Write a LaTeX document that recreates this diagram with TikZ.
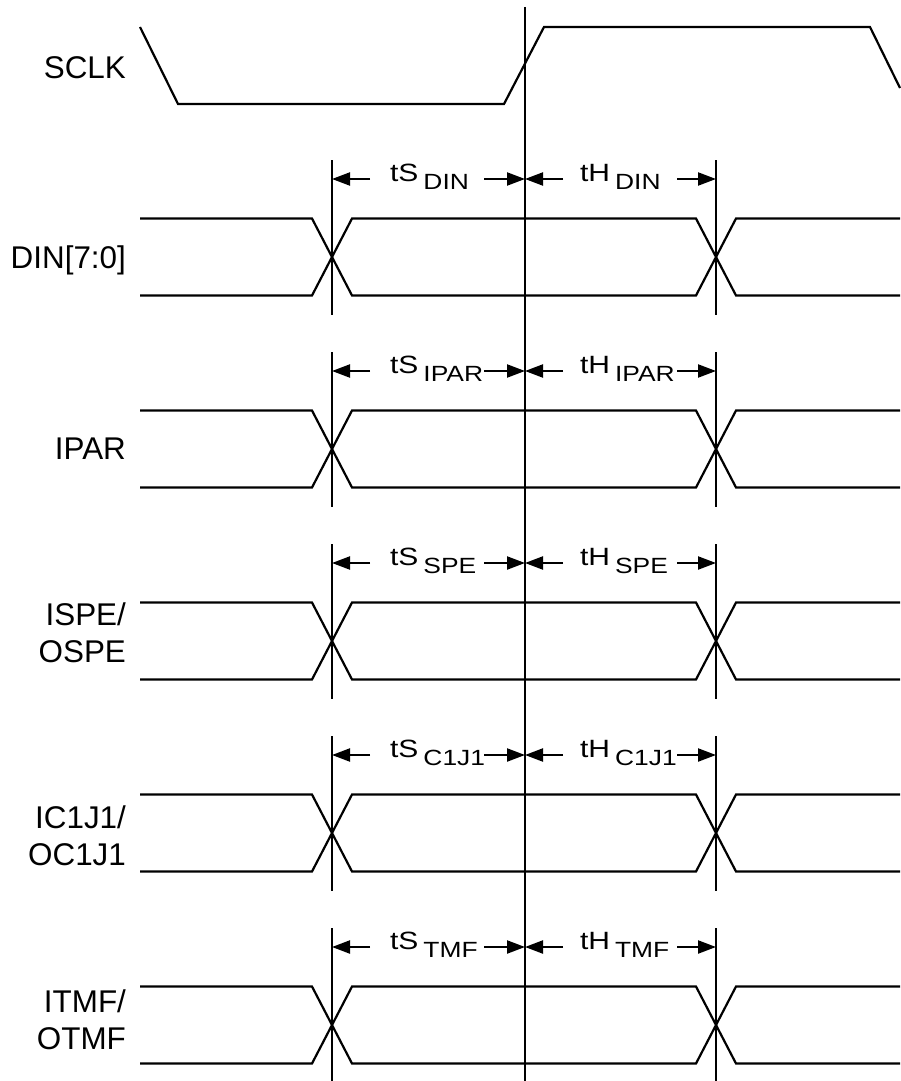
\documentclass[tikz,border=0pt]{standalone}
\usepackage{fontspec, graphicx}
\setmainfont{Liberation Sans}
\usetikzlibrary{arrows.meta}

\begin{document}
\begin{tikzpicture}[x=0.5pt, y=-0.5pt, line width=1.1pt,
    siglabel/.style={font=\fontsize{15.7}{18.5}\selectfont, align=right, anchor=east, inner sep=0pt},
    dimarrow/.style={-{Triangle[length=9pt,width=6.5pt]}},
    timelabel/.style={anchor=base west, inner sep=0pt, font=\fontsize{12.5}{14}\selectfont}]
      \useasboundingbox (0,0) rectangle (900,1081);
      % clock and its rising edge
      \node[siglabel] (sclk) at (127,67.5) {SCLK};
      \draw (140,27) -- (178,104) -- (504,104) -- (544,27) -- (870,27) -- (900,88);
      \draw (525,7) -- (525,1081);
      % data rows
      \foreach \k/\name/\sub/\ly in {0/{DIN[7:0]}/DIN/260, 1/IPAR/IPAR/449, 2/{ISPE/\\OSPE}/SPE/632.5,
                                     3/{IC1J1/\\OC1J1}/C1J1/836, 4/{ITMF/\\OTMF}/TMF/1019.5} {
            \pgfmathsetmacro\c{257+192*\k}
            \node[siglabel] (lab\k) at (127,\ly) {\name};
            \draw (140,\c-38.5) -- (312,\c-38.5) -- (352,\c+38.5) -- (696,\c+38.5) -- (736,\c-38.5) -- (900,\c-38.5);
            \draw (140,\c+38.5) -- (312,\c+38.5) -- (352,\c-38.5) -- (696,\c-38.5) -- (736,\c+38.5) -- (900,\c+38.5);
            \draw (332,\c-97) -- (332,\c+58);
            \draw (716,\c-97) -- (716,\c+58);
            \coordinate (s\k) at (332,\c-78);
            \coordinate (m\k) at (525,\c-78);
            \coordinate (h\k) at (716,\c-78);
            \draw[dimarrow] ([xshift=19pt]s\k) -- (s\k);
            \draw[dimarrow] ([xshift=-20.5pt]m\k) -- (m\k);
            \draw[dimarrow] ([xshift=19pt]m\k) -- (m\k);
            \draw[dimarrow] ([xshift=-19.5pt]h\k) -- (h\k);
            \node[timelabel] (ts\k) at (389,\c-76) {\scalebox{1.2}[1]{tS\,\raisebox{-4pt}{\fontsize{11}{12}\selectfont\sub}}};
            \node[timelabel] (th\k) at (579,\c-76) {\scalebox{1.2}[1]{tH\,\raisebox{-4pt}{\fontsize{11}{12}\selectfont\sub}}};
      }
\end{tikzpicture}
\end{document}
